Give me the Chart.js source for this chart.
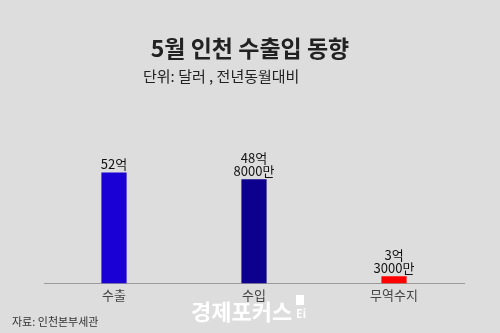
<!DOCTYPE html>
<html>
<head>
<meta charset="utf-8">
<script src="https://cdn.jsdelivr.net/npm/chart.js@4"></script>
<style>
    html, body { margin: 0; padding: 0; background: #dddddd; }
    #wrap { width: 500px; height: 333px; }
</style>
</head>
<body>
<div id="wrap"><canvas id="tradeChart" width="500" height="333"></canvas></div>
<script>
const categories = ['수출', '수입', '무역수지'];
const values = [52, 48.8, 3.3];           // 억 달러
const valueLabels = [['52억'], ['48억', '8000만'], ['3억', '3000만']];
const barColors = ['#1a00d4', '#0e008e', '#ff0000'];

const FONT = '"Noto Sans CJK KR", "Noto Sans", sans-serif';

// 제목, 단위, 값 라벨, 출처, 워터마크
const decorPlugin = {
    id: 'decor',
    afterDraw(chart) {
        const ctx = chart.ctx;
        ctx.save();
        ctx.textAlign = 'center';
        ctx.textBaseline = 'alphabetic';
        ctx.fillStyle = '#222';
        ctx.font = 'bold 23px ' + FONT;
        ctx.fillText('5월 인천 수출입 동향', 250, 57);

        ctx.textAlign = 'left';
        ctx.font = '15px ' + FONT;
        ctx.fillStyle = '#222';
        ctx.fillText('단위: 달러 , 전년동월대비', 143, 82);

        // 값 라벨
        const meta = chart.getDatasetMeta(0);
        ctx.textAlign = 'center';
        ctx.font = '13px ' + FONT;
        ctx.fillStyle = '#111';
        meta.data.forEach((bar, i) => {
            const lines = valueLabels[i];
            let y = bar.y - 3;
            for (let j = lines.length - 1; j >= 0; j--) {
                ctx.fillText(lines[j], bar.x, y);
                y -= 13;
            }
        });

        // 출처
        ctx.textAlign = 'left';
        ctx.font = '11px ' + FONT;
        ctx.fillStyle = '#333';
        ctx.fillText('자료: 인천본부세관', 12, 326);

        // 워터마크
        ctx.fillStyle = '#ffffff';
        ctx.font = 'bold 22px ' + FONT;
        ctx.fillText('경제포커스', 191, 320);
        ctx.fillRect(296, 295, 8, 10);
        ctx.font = 'bold 11px ' + FONT;
        ctx.fillText('Ei', 296, 318);
        ctx.restore();
    }
};

const ctx = document.getElementById('tradeChart').getContext('2d');
new Chart(ctx, {
    type: 'bar',
    data: {
        labels: categories,
        datasets: [
            {
                data: values,
                backgroundColor: barColors,
                borderWidth: 0,
                barPercentage: 0.18,
                categoryPercentage: 1
            }
        ]
    },
    options: {
        responsive: false,
        animation: false,
        layout: {
            padding: { left: 44, right: 36, top: 117, bottom: 26 }
        },
        scales: {
            x: {
                grid: { display: false, drawTicks: false },
                border: { display: true, color: '#9a9a9a', width: 1 },
                ticks: {
                    color: '#444',
                    padding: 4,
                    font: { family: FONT, size: 13 }
                }
            },
            y: {
                display: false,
                min: 0,
                max: 78
            }
        },
        plugins: {
            legend: { display: false },
            tooltip: { enabled: false }
        }
    },
    plugins: [decorPlugin]
});
</script>
</body>
</html>
